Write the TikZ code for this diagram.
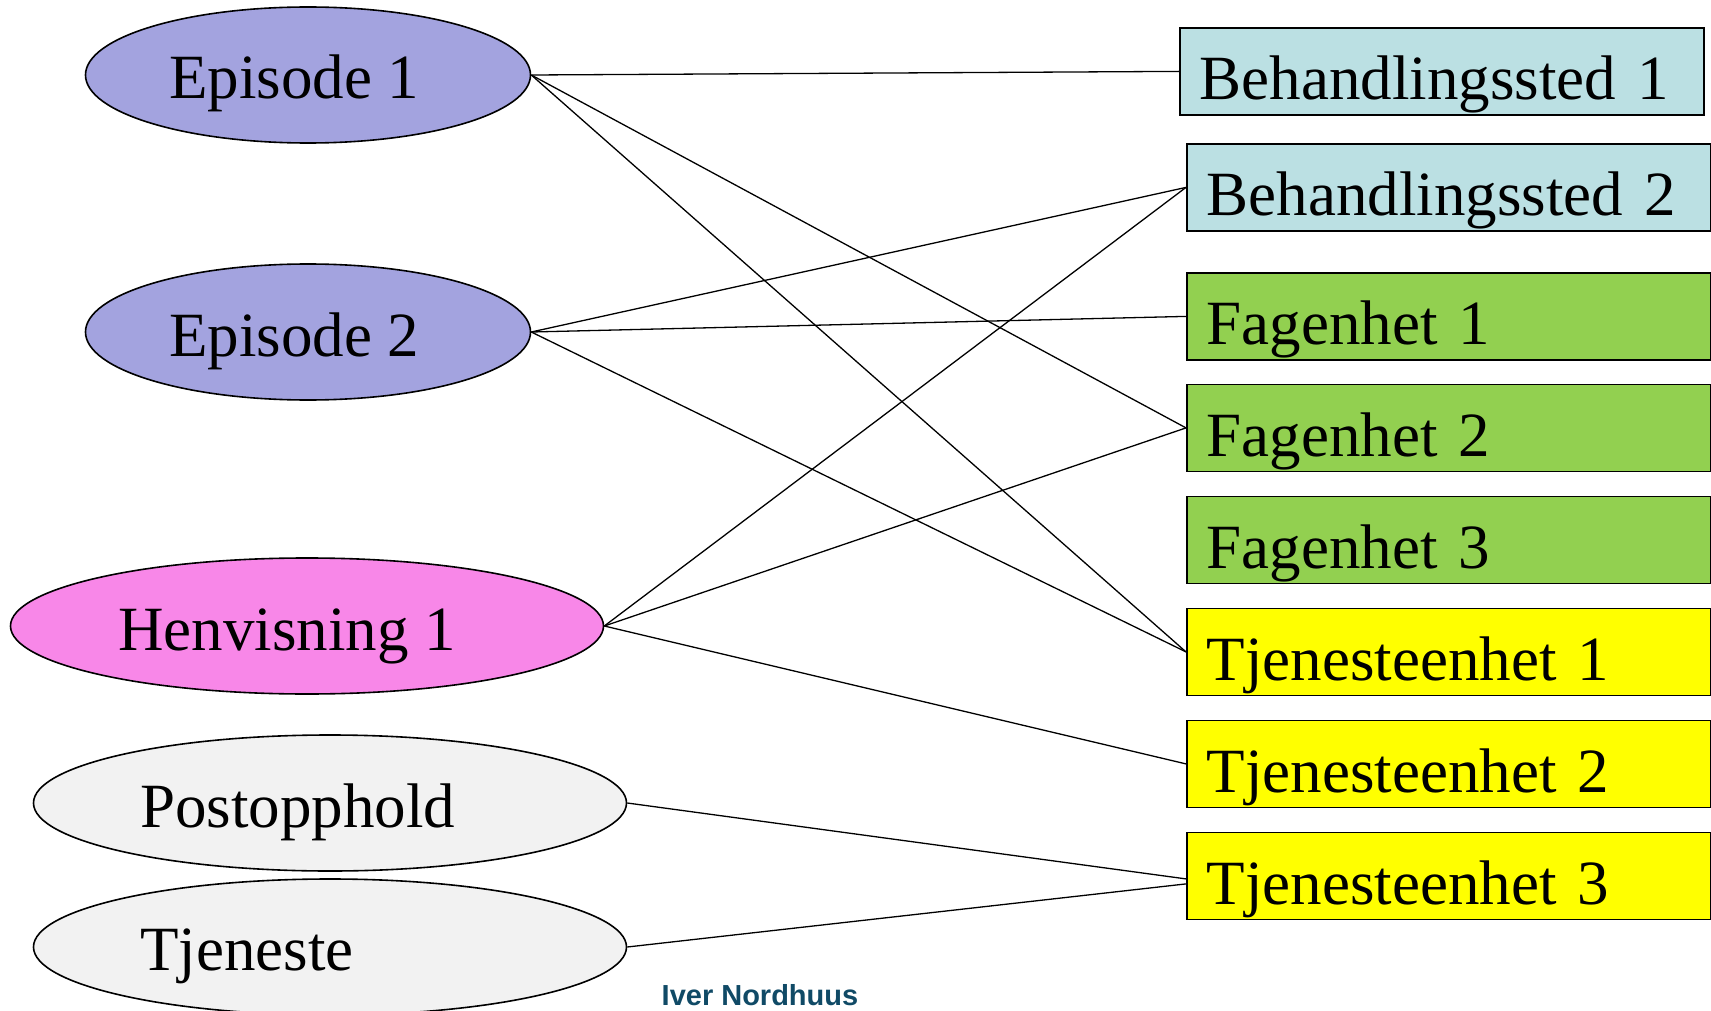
\documentclass[tikz,border=0pt]{standalone}
\usepackage{fontspec}
\setmainfont{Liberation Serif}
\newfontfamily\authorfont{Liberation Sans}
\usetikzlibrary{shapes.geometric}
\definecolor{episodefill}{RGB}{163,163,223}
\definecolor{henvfill}{RGB}{248,135,232}
\definecolor{greyfill}{RGB}{242,242,242}
\definecolor{bluefill}{RGB}{187,224,227}
\definecolor{greenfill}{RGB}{146,208,80}
\definecolor{yellowfill}{RGB}{255,255,0}
\definecolor{authorcol}{RGB}{16,74,102}
\tikzset{
  ell/.style={ellipse, draw=black, line width=1.6pt, inner sep=0pt, minimum height=136pt},
  elltext/.style={anchor=base west, inner sep=0pt, font=\fontsize{63}{70}\selectfont},
  box/.style={rectangle, draw=black, line width=1.8pt, anchor=north west, inner xsep=20pt, inner ysep=0pt,
    text width=484pt, text height=72pt, text depth=15pt, align=left, font=\fontsize{63}{70}\selectfont},
  conn/.style={draw=black, line width=1.3pt},
}
\begin{document}
\begin{tikzpicture}[x=1pt,y=-1pt]
\useasboundingbox (0,0) rectangle (1711,1011);
% ellipses
\node[ell, fill=episodefill, minimum width=445pt] (e1) at (308,75) {};
\node[elltext] (e1t) at (169,99) {Episode 1};
\node[ell, fill=episodefill, minimum width=445pt] (e2) at (308,332) {};
\node[elltext] (e2t) at (169,356) {Episode 2};
\node[ell, fill=henvfill, minimum width=593pt] (h1) at (307,626) {};
\node[elltext] (h1t) at (118,650) {Henvisning 1};
\node[ell, fill=greyfill, minimum width=593pt] (po) at (330,803) {};
\node[elltext] (pot) at (140,827) {Postopphold};
\node[ell, fill=greyfill, minimum width=593pt] (tj) at (330,947) {};
\node[elltext] (tjt) at (140,970) {Tjeneste};
% boxes
\node[box, fill=bluefill] (b1) at (1179,27) {Behandlingssted 1};
\node[box, fill=bluefill] (b2) at (1186,143) {Behandlingssted 2};
\node[box, fill=greenfill] (f1) at (1186,272) {Fagenhet 1};
\node[box, fill=greenfill] (f2) at (1186,383.5) {Fagenhet 2};
\node[box, fill=greenfill] (f3) at (1186,495.5) {Fagenhet 3};
\node[box, fill=yellowfill] (t1) at (1186,607.5) {Tjenesteenhet 1};
\node[box, fill=yellowfill] (t2) at (1186,719.5) {Tjenesteenhet 2};
\node[box, fill=yellowfill] (t3) at (1186,831.5) {Tjenesteenhet 3};
% connectors
\draw[conn] (e1.east) -- (b1.west);
\draw[conn] (e1.east) -- (f2.west);
\draw[conn] (e1.east) -- (t1.west);
\draw[conn] (e2.east) -- (b2.west);
\draw[conn] (e2.east) -- (f1.west);
\draw[conn] (e2.east) -- (t1.west);
\draw[conn] (h1.east) -- (b2.west);
\draw[conn] (h1.east) -- (f2.west);
\draw[conn] (h1.east) -- (t2.west);
\draw[conn] (po.east) -- ([yshift=-3pt]t3.west);
\draw[conn] (tj.east) -- ([yshift=-8pt]t3.west);
% author
\node[anchor=base, inner sep=0pt, text=authorcol, font=\authorfont\bfseries\fontsize{29}{32}\selectfont] (auth) at (760,1005) {Iver Nordhuus};
\end{tikzpicture}
\end{document}
